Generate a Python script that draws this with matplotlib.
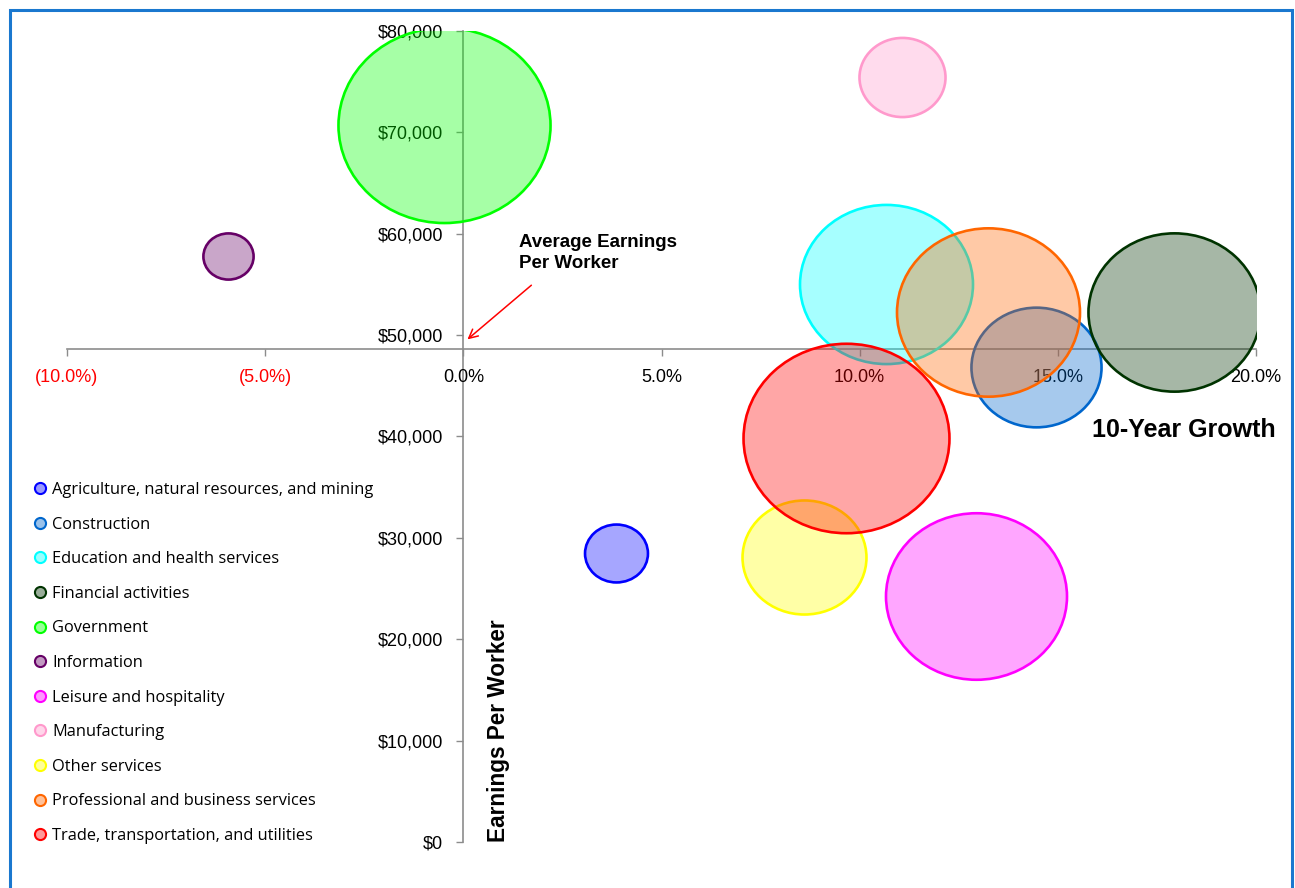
import numpy as np
import matplotlib
matplotlib.use("Agg")
import matplotlib.pyplot as plt
from matplotlib.path import Path
from matplotlib.transforms import Affine2D
from matplotlib.lines import Line2D
from matplotlib.patches import Rectangle
from matplotlib.ticker import FuncFormatter, MultipleLocator


sectors = [
    "Agriculture, natural resources, and mining",
    "Construction",
    "Education and health services",
    "Financial activities",
    "Government",
    "Information",
    "Leisure and hospitality",
    "Manufacturing",
    "Other services",
    "Professional and business services",
    "Trade, transportation, and utilities",
]
growth = [3.85, 14.46, 10.66, 17.92, -0.50, -5.93, 12.93, 11.08, 8.60, 13.25, 9.66]
earnings = [28500, 46850, 55050, 52300, 70700, 57850, 24300, 75500, 28100, 52300, 39850]
bubble_size = [9.9, 42.3, 74.8, 74.0, 112.4, 6.3, 81.9, 18.5, 38.4, 83.7, 106.0]
colors = ["#0000ff", "#0066cc", "#00ffff", "#003300", "#00ff00", "#660066",
          "#ff00ff", "#ff99cc", "#ffff00", "#ff6600", "#ff0000"]

avg_earnings = 48600

sans = ["Liberation Sans", "DejaVu Sans"]


def fill_of(c, a=0.35):
    rgba = list(matplotlib.colors.to_rgba(c))
    rgba[3] = a
    return tuple(rgba)


def pct_fmt(v, pos):
    if v < 0:
        return "({:.1f}%)".format(abs(v))
    return "{:.1f}%".format(v)


def dollar_fmt(v, pos):
    return "${:,.0f}".format(v)


# slightly squashed bubble, like the stretched excel chart
ellipse = Path.unit_circle().transformed(Affine2D().scale(1.0, 0.92))

fig = plt.figure(figsize=(12.95, 8.88), dpi=100)
fig.patch.set_facecolor("white")
ax = fig.add_axes([67 / 1295, 1 - 842 / 888, (1256 - 67) / 1295, 811 / 888])

for x, y, sz, c in zip(growth, earnings, bubble_size, colors):
    ax.scatter([x], [y], s=sz * 207.4, marker=ellipse, facecolors=[fill_of(c)],
               edgecolors=[c], linewidths=1.9, zorder=3)

ax.set_xlim(-10, 20)
ax.set_ylim(0, 80000)

for side in ["top", "right"]:
    ax.spines[side].set_visible(False)
ax.spines["left"].set_position(("data", 0))
ax.spines["bottom"].set_position(("data", avg_earnings))
for side in ["left", "bottom"]:
    ax.spines[side].set_color("#8c8c8c")
    ax.spines[side].set_linewidth(1.2)
    ax.spines[side].set_zorder(1)

ax.xaxis.set_major_locator(MultipleLocator(5))
ax.yaxis.set_major_locator(MultipleLocator(10000))
ax.xaxis.set_major_formatter(FuncFormatter(pct_fmt))
ax.yaxis.set_major_formatter(FuncFormatter(dollar_fmt))
ax.tick_params(axis="x", direction="out", length=5, width=1, color="#8c8c8c",
               pad=9, labelsize=13)
ax.tick_params(axis="y", direction="out", length=5, width=1, color="#8c8c8c",
               pad=9.5, labelsize=13)
for lab in ax.get_xticklabels() + ax.get_yticklabels():
    lab.set_family(sans)
for t, lab in zip(ax.get_xticks(), ax.get_xticklabels()):
    if t < 0:
        lab.set_color("#ff0000")

ax.set_facecolor("none")

fig.text(1276 / 1295, 1 - 430 / 888, "10-Year Growth", ha="right", va="center",
         fontsize=18, fontweight="bold", family=sans)
fig.text(499 / 1295, 1 - 842 / 888, "Earnings Per Worker", rotation=90,
         ha="center", va="bottom", fontsize=16.3, fontweight="bold", family=sans)

ax.text(1.41, 60000, "Average Earnings\nPer Worker", ha="left", va="top",
        fontsize=13.5, fontweight="bold", family=sans, linespacing=1.35)
ax.annotate("", xy=(0.05, 49400), xytext=(1.77, 55100),
            arrowprops=dict(arrowstyle="->", color="#ff0000", lw=1.1,
                            mutation_scale=16))

handles = [Line2D([], [], linestyle="none", marker="o", markersize=8,
                  markerfacecolor=fill_of(c, 0.4), markeredgecolor=c,
                  markeredgewidth=1.5) for c in colors]
fig.legend(handles, sectors, loc="upper left",
           bbox_to_anchor=(35 / 1295, 1 - 482 / 888), frameon=False,
           borderpad=0, borderaxespad=0,
           handlelength=0.6, handletextpad=0.43, labelspacing=1.135,
           prop={"family": ["Open Sans", "DejaVu Sans"], "size": 11.8})

fig.patches.append(Rectangle((9.5 / 1295, -0.05), (1292 - 9.5) / 1295, 1.05 - 10.5 / 888,
                             transform=fig.transFigure, fill=False,
                             edgecolor="#1a78cf", linewidth=2.2))

fig.savefig("out.png", dpi=100, facecolor="white")
